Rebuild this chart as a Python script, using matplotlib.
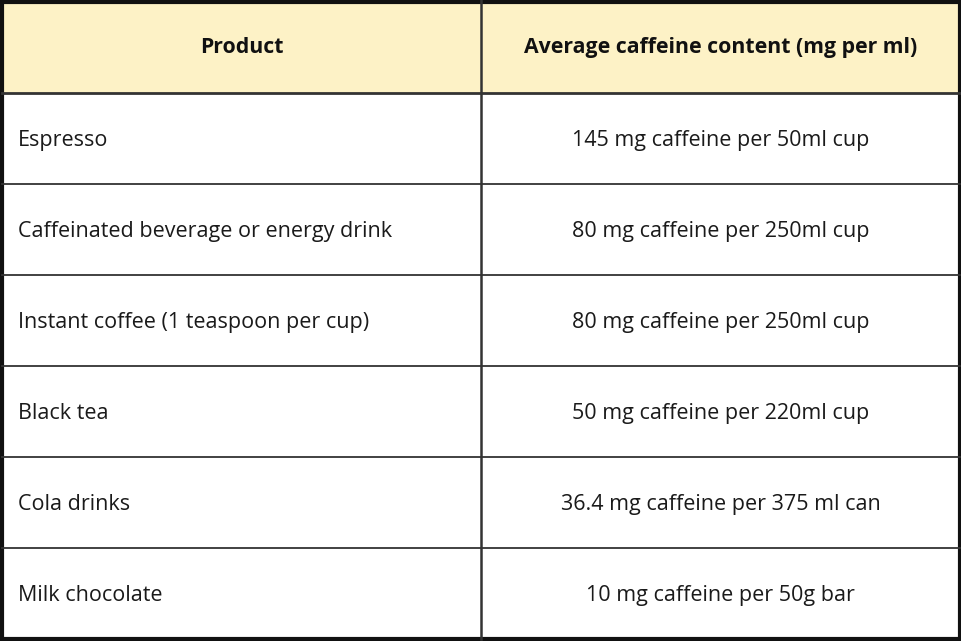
import matplotlib.pyplot as plt
from matplotlib.patches import Rectangle

# Datos de la tabla
encabezados = ['Product', 'Average caffeine content (mg per ml)']
productos = ['Espresso', 'Caffeinated beverage or energy drink',
             'Instant coffee (1 teaspoon per cup)', 'Black tea',
             'Cola drinks', 'Milk chocolate']
cafeina = ['145 mg caffeine per 50ml cup', '80 mg caffeine per 250ml cup',
           '80 mg caffeine per 250ml cup', '50 mg caffeine per 220ml cup',
           '36.4 mg caffeine per 375 ml can', '10 mg caffeine per 50g bar']

plt.rcParams['font.family'] = ['Open Sans', 'DejaVu Sans']

W, H = 962, 641
fig = plt.figure(figsize=(W / 100, H / 100), dpi=100)
ax = fig.add_axes([0, 0, 1, 1])
ax.set_xlim(0, W)
ax.set_ylim(H, 0)
ax.axis('off')

borde = '#111111'
linea = '#333333'
x0, x1, xm = 2, 960, 481
y_head = 93
alto_fila = (639 - y_head) / len(productos)

# Fondo del encabezado
ax.add_patch(Rectangle((x0, 0), x1 - x0, y_head, facecolor='#fdf2c6', edgecolor='none'))
ax.text((x0 + xm) / 2, y_head / 2 + 1, encabezados[0], ha='center', va='center',
        fontsize=15.3, fontweight='bold', color='#111111')
ax.text((xm + x1) / 2, y_head / 2 + 1, encabezados[1], ha='center', va='center',
        fontsize=15.3, fontweight='bold', color='#111111')

# Filas
for i, (p, c) in enumerate(zip(productos, cafeina)):
    yc = y_head + alto_fila * (i + 0.5) + 2
    ax.text(18, yc, p, ha='left', va='center', fontsize=15.5, color='#1a1a1a')
    ax.text((xm + x1) / 2, yc, c, ha='center', va='center', fontsize=15.5, color='#1a1a1a')
    if i > 0:
        y = y_head + alto_fila * i
        ax.plot([x0, x1], [y, y], color=linea, lw=1.3)

# Lineas principales
ax.plot([x0, x1], [y_head, y_head], color=linea, lw=2)
ax.plot([xm, xm], [0, 639], color=linea, lw=1.8)
ax.add_patch(Rectangle((x0, 2), x1 - x0, 637, facecolor='none', edgecolor=borde, lw=3))

fig.savefig('out.png', dpi=100, facecolor='white')
